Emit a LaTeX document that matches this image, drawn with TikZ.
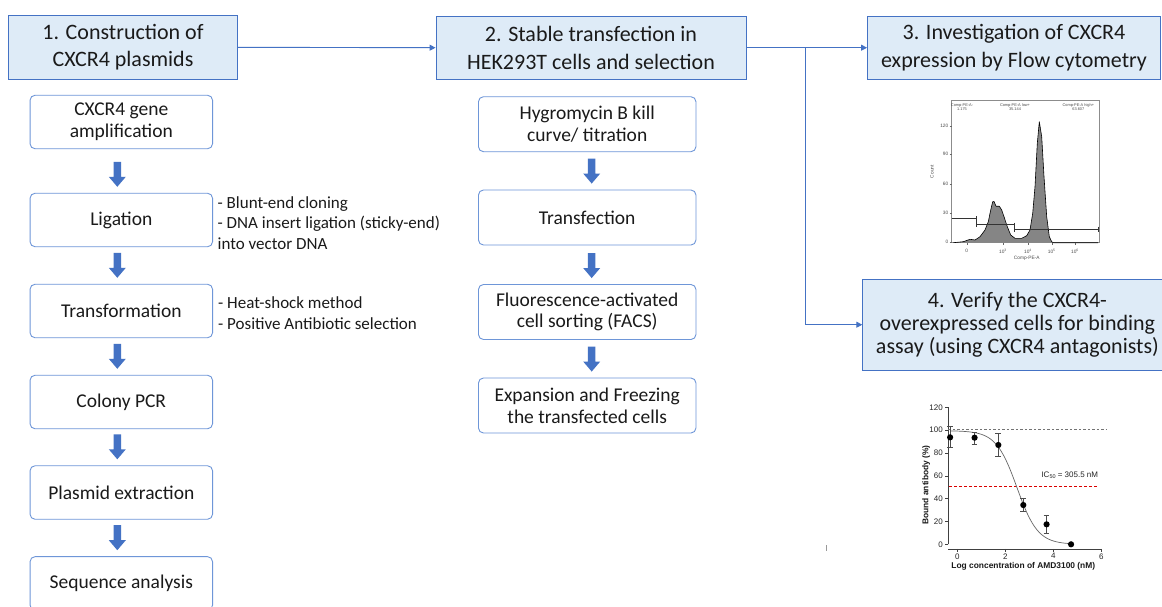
\documentclass[tikz,border=0pt]{standalone}
\usepackage{fontspec}
\setmainfont{Carlito}
\newfontfamily\arialf{Liberation Sans}
\usetikzlibrary{arrows.meta,calc}
\definecolor{hdrfill}{HTML}{DEEBF7}
\definecolor{hdrline}{HTML}{4472C4}
\definecolor{boxline}{HTML}{6E96D8}
\definecolor{arrfill}{HTML}{4472C4}
\definecolor{txt}{HTML}{1A1A1A}
\definecolor{histfill}{HTML}{858585}
\newcommand\blockdown[2]{%
  \fill[arrfill] ($(#1.north)+(#2-3.75,-31)$) -- ++(7.5,0) -- ++(0,15) -- ++(4.75,0)
    -- ($(#1.north)+(#2,-6)$) -- ++(-8.5,-10) -- ++(4.75,0) -- cycle;}
\begin{document}
\begin{tikzpicture}[x=1pt,y=-1pt,
  hdr/.style={draw=hdrline, fill=hdrfill, line width=0.9pt, inner sep=0pt, align=center,
    text=txt, font=\fontsize{22}{27.5}\selectfont},
  stepbox/.style={draw=boxline, rounded corners=5pt, line width=0.9pt, minimum width=182.5pt,
    minimum height=53.5pt, inner sep=0pt, align=center, text=txt, font=\fontsize{19.5}{21.6}\selectfont},
  midbox/.style={stepbox, minimum width=217.5pt, minimum height=55pt},
  note/.style={anchor=west, align=left, inner sep=0pt, text=txt, font=\fontsize{17}{20.5}\selectfont},
  conn/.style={draw=hdrline, line width=0.9pt, -{Triangle[length=6pt,width=6pt]}},
  axis/.style={draw=black!75, line width=0.6pt},
  tiny/.style={inner sep=0pt, text=black!70, font=\arialf\fontsize{3.9}{4.2}\selectfont, align=center},
  small/.style={inner sep=0pt, text=black!70, font=\arialf\fontsize{4.8}{5.5}\selectfont},
  plotlab/.style={inner sep=0pt, text=black!85, font=\arialf\fontsize{8}{9}\selectfont},
  plottitle/.style={inner sep=0pt, text=black!90, font=\arialf\bfseries\fontsize{8.4}{9}\selectfont}]
\useasboundingbox (0,0) rectangle (1162,606);
\fill[white] (0,0) rectangle (1162,606);
\clip (0,0) rectangle (1162,606);

% headers
\node[hdr, minimum width=229.4pt, minimum height=64pt] (h1) at (123,47.3) {1. Construction of\\CXCR4 plasmids};
\node[hdr, minimum width=310pt, minimum height=63.3pt] (h2) at (591,47.7) {2. Stable transfection in\\HEK293T cells and selection};
\node[hdr, minimum width=293pt, minimum height=63.3pt] (h3) at (1014,47.7) {3. Investigation of CXCR4\\expression by Flow cytometry};
\node[hdr, minimum width=309.3pt, minimum height=90.7pt, font=\fontsize{22}{22.6}\selectfont] (h4) at (1017.4,324.7)
  {4. Verify the CXCR4-\\overexpressed cells for binding\\assay (using CXCR4 antagonists)};

% connectors
\draw[conn] (h1.east) -- (h2.west);
\draw[conn] (h2.east) -- (h3.west);
\coordinate (br) at (805,47.7);
\draw[conn] (br) |- (h4.west);

% left column
\node[stepbox] (a1) at (121.3,122) {CXCR4 gene\\amplification};
\node[stepbox] (a2) at (121.3,220) {Ligation};
\node[stepbox] (a3) at (121.3,311) {Transformation};
\node[stepbox] (a4) at (121.3,402) {Colony PCR};
\node[stepbox] (a5) at (121.3,492.5) {Plasmid extraction};
\node[stepbox] (a6) at (121.3,583.4) {Sequence analysis};
\blockdown{a2}{-4}
\blockdown{a3}{-4}
\blockdown{a4}{-4}
\blockdown{a5}{-4}
\blockdown{a6}{-4}

\node[note] (n1) at ($(a2.east)+(4.5,2.7)$) {- Blunt-end cloning\\- DNA insert ligation (sticky-end)\\into vector DNA};
\node[note] (n2) at ($(a3.east)+(5,2)$) {- Heat-shock method\\- Positive Antibiotic selection};

% middle column
\node[midbox] (b1) at (587.2,124.2) {Hygromycin B kill\\curve/ titration};
\node[midbox] (b2) at (587.2,217.5) {Transfection};
\node[midbox] (b3) at (587.2,312) {Fluorescence-activated\\cell sorting (FACS)};
\node[midbox] (b4) at (587.2,405.5) {Expansion and Freezing\\the transfected cells};
\blockdown{b2}{4.5}
\blockdown{b3}{4.5}
\blockdown{b4}{4.5}

% flow cytometry histogram
\draw[black!45, line width=0.5pt] (951.7,100) rectangle (1099,242.7);
\fill[histfill] (953.3,242.7) -- (963.3,241.7) -- (970,239.3) -- (975,240) -- (980,236.7)
  -- (985,230) -- (988.3,221.7) -- (990.7,210) -- (992.7,201.7) -- (994,201.5) -- (996,206.2)
  -- (999.3,206.2) -- (1001.7,210) -- (1004,216.7) -- (1007.3,226.7) -- (1010.7,235)
  -- (1015,238.3) -- (1021.7,238.3) -- (1026.7,235.7) -- (1030,230) -- (1032.7,213.3)
  -- (1035,186.7) -- (1037.3,143.3) -- (1039.3,121.7) -- (1041.7,136.7) -- (1044,176.7)
  -- (1046.7,216.7) -- (1049.3,236.7) -- (1051.7,241.7) -- (1053.3,242.7) -- cycle;
\draw[black, line width=0.6pt, line join=round] (953.3,242.7) -- (963.3,241.7) -- (970,239.3) -- (975,240) -- (980,236.7)
  -- (985,230) -- (988.3,221.7) -- (990.7,210) -- (992.7,201.7) -- (994,201.5) -- (996,206.2)
  -- (999.3,206.2) -- (1001.7,210) -- (1004,216.7) -- (1007.3,226.7) -- (1010.7,235)
  -- (1015,238.3) -- (1021.7,238.3) -- (1026.7,235.7) -- (1030,230) -- (1032.7,213.3)
  -- (1035,186.7) -- (1037.3,143.3) -- (1039.3,121.7) -- (1041.7,136.7) -- (1044,176.7)
  -- (1046.7,216.7) -- (1049.3,236.7) -- (1051.7,241.7) -- (1053.3,242.7) -- (1098,242.7);
\draw[black!80, line width=0.6pt] (951.7,218.7) -- (976.7,218.7) (976.7,216) -- (976.7,226.7)
  (976.7,224.3) -- (1014.3,224.3) (1014.3,222.7) -- (1014.3,231.7)
  (1014.3,229.3) -- (1098.3,229.3) (1098.3,226.7) -- (1098.3,232.3);
\foreach \v/\y in {0/241.7,30/213,60/184,90/154,120/125.7}{
  \draw[black!60, line width=0.4pt] (949.7,\y) -- (951.7,\y);
  \node[small, anchor=east] at (948.5,\y) {\v};}
\foreach \x in {966.7,1003,1028,1051.7,1075}{
  \draw[black!60, line width=0.4pt] (\x,242.7) -- (\x,244.7);}
\node[small] at (966.7,251) {0};
\node[small] at (1003,251) {10\textsuperscript{3}};
\node[small] at (1028,251) {10\textsuperscript{4}};
\node[small] at (1051.7,251) {10\textsuperscript{5}};
\node[small] at (1075,251) {10\textsuperscript{6}};
\node[small] at (1026.7,258.3) {Comp-PE-A};
\node[small, rotate=90] at (932,171.7) {Count};
\node[tiny] at (962,107.5) {Comp-PE-A-\\1.175};
\node[tiny] at (1015,107.5) {Comp-PE-A low+\\35.144};
\node[tiny] at (1078.3,107.5) {Comp-PE-A high+\\63.607};

% stray mark
\draw[black!40, line width=0.8pt] (826,545) -- (826,551);

% binding assay plot
\begin{scope}[shift={(957.3,544.3)}, x=24pt, y=1.1417pt]
  \draw[axis] (-0.375,0) -- (-0.375,120);
  \foreach \v in {0,20,...,120}{
    \draw[axis] (-0.375,\v) -- (-0.5,\v);
    \node[plotlab, anchor=east] at (-0.6,\v) {\v};}
  \draw[axis] (-0.375,-4.1) -- (6,-4.1);
  \foreach \v in {0,2,4,6}{
    \draw[axis] (\v,-4.1) -- (\v,-6.8);
    \node[plotlab, anchor=north] at (\v,-7.8) {\v};}
  \draw[black!55, dashed, line width=0.6pt, dash pattern=on 2.5pt off 2pt] (-0.375,101) -- (6.2,101);
  \draw[red!85!black, dashed, line width=1pt, dash pattern=on 3pt off 2pt] (-0.33,51) -- (5.9,51);
  \draw[black!60, line width=0.7pt] plot[domain=-0.3:4.8, samples=80, smooth] (\x,{99.5/(1+10^(\x-2.485))});
  \foreach \px/\py/\lo/\hi in {-0.3/93.7/85/103, 0.72/93.4/88/98, 1.71/87/77/97, 2.75/34.4/29/40, 3.72/17.5/10/25}{
    \draw[black!70, line width=0.6pt] (\px,\lo) -- (\px,\hi) (\px-0.12,\lo) -- (\px+0.12,\lo) (\px-0.12,\hi) -- (\px+0.12,\hi);}
  \foreach \px/\py in {-0.3/93.7, 0.72/93.4, 1.71/87, 2.75/34.4, 3.72/17.5, 4.74/0}{
    \fill[black] (\px,\py) circle[radius=3.1pt];}
  \node[plotlab, anchor=west] at (3.5,60.7) {IC\raisebox{-0.35ex}{\fontsize{5.5}{6}\selectfont 50} = 305.5 nM};
  \node[plottitle, rotate=90] at (-1.3,52) {Bound antibody (\%)};
  \node[plottitle] at (2.75,-19.6) {Log concentration of AMD3100 (nM)};
\end{scope}
\end{tikzpicture}
\end{document}
